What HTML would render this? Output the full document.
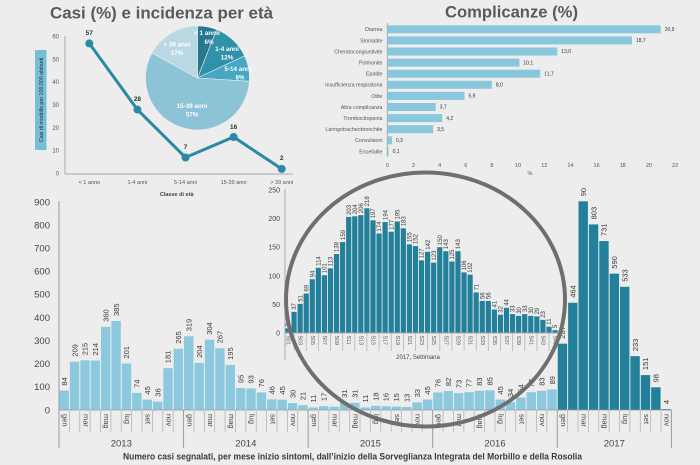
<!DOCTYPE html>
<html><head><meta charset="utf-8"><style>
html,body{margin:0;padding:0;background:#ededed;}
svg{display:block;font-family:"Liberation Sans",Arial,sans-serif;}
.l{fill:#8cc9de}.d{fill:#22809a}.cb{fill:#89c7dd}
.dl{font-size:7.5px;fill:#3a3a3a}
.ml{font-size:7.5px;fill:#444}
.il{font-size:6px;fill:#3a3a3a}
.wl{font-size:5.3px;fill:#555}
.ax{stroke:#a9a9a9;stroke-width:1;fill:none}
.tk{stroke:#b5b5b5;stroke-width:0.8}
</style></head><body>
<svg width="700" height="465" viewBox="0 0 700 465">
<rect width="700" height="465" fill="#ededed"/>

<!-- ===== Top-left: Casi e incidenza ===== -->
<text x="50" y="18.5" font-size="17" font-weight="bold" fill="#5a5a5a" textLength="223" lengthAdjust="spacingAndGlyphs">Casi (%) e incidenza per età</text>
<rect x="35" y="50" width="11.5" height="100" fill="#74bfd6"/>
<text transform="translate(42.8,100) rotate(-90)" text-anchor="middle" font-size="5.3" fill="#2a2a2a">Casi di morbillo per 100.000 abitanti</text>
<g font-size="6" fill="#555" text-anchor="end">
<text x="59" y="175.5">0</text><text x="59" y="152.7">10</text><text x="59" y="129.8">20</text><text x="59" y="107">30</text><text x="59" y="84.2">40</text><text x="59" y="61.4">50</text><text x="59" y="38.5">60</text>
</g>
<line x1="65" y1="36" x2="65" y2="174" class="ax"/>
<line x1="65" y1="174" x2="293" y2="174" class="ax"/>
<g font-size="5.5" fill="#555" text-anchor="middle">
<text x="89.3" y="184">&lt; 1 anno</text><text x="137.4" y="184">1-4 anni</text><text x="185.5" y="184">5-14 anni</text><text x="233.6" y="184">15-39 anni</text><text x="281.7" y="184">&gt; 39 anni</text>
</g>
<text x="176.7" y="196" font-size="5.5" font-weight="bold" fill="#444" text-anchor="middle">Classe di età</text>
<polyline points="89.3,43.4 137.4,109.6 185.5,157.5 233.6,137 281.7,168.9" fill="none" stroke="#2c88a4" stroke-width="3"/>
<g fill="#2c88a4"><circle cx="89.3" cy="43.4" r="4"/><circle cx="137.4" cy="109.6" r="4"/><circle cx="185.5" cy="157.5" r="4"/><circle cx="233.6" cy="137" r="4"/><circle cx="281.7" cy="168.9" r="4"/></g>
<g font-size="6.5" font-weight="bold" fill="#333" text-anchor="middle">
<text x="89.3" y="35">57</text><text x="137.4" y="101">28</text><text x="185.5" y="149">7</text><text x="233.6" y="129">16</text><text x="281.7" y="160">2</text>
</g>
<!-- pie -->
<g stroke="#ededed" stroke-width="0.6">
<path d="M197.5,78 L197.5,26 A52,52 0 0 1 216.64,29.65 Z" fill="#27788e"/>
<path d="M197.5,78 L216.64,29.65 A52,52 0 0 1 244.55,55.86 Z" fill="#3190aa"/>
<path d="M197.5,78 L244.55,55.86 A52,52 0 0 1 249.4,81.27 Z" fill="#45a7c3"/>
<path d="M197.5,78 L249.4,81.27 A52,52 0 1 1 151.93,52.95 Z" fill="#8dc3d7"/>
<path d="M197.5,78 L151.93,52.95 A52,52 0 0 1 197.5,26 Z" fill="#bad8e4"/>
</g>
<g font-size="6.3" font-weight="bold" fill="#fff" text-anchor="middle">
<text x="207" y="35">&lt; 1 anno</text><text x="209" y="44">6%</text>
<text x="227" y="51">1-4 anni</text><text x="227" y="59.5">12%</text>
<text x="238" y="71">5-14 anni</text><text x="240" y="79.5">8%</text>
<text x="192" y="108">15-39 anni</text><text x="192" y="116.5">57%</text>
<text x="177" y="46.5">&gt; 39 anni</text><text x="177" y="55">17%</text>
</g>

<!-- ===== Top-right: Complicanze ===== -->
<text x="445" y="17.5" font-size="17" font-weight="bold" fill="#5a5a5a" textLength="133" lengthAdjust="spacingAndGlyphs">Complicanze (%)</text>
<line x1="387.3" y1="23" x2="387.3" y2="157" class="ax"/>
<g class="cb">
<rect x="387.3" y="25.3" width="273.4" height="8"/>
<rect x="387.3" y="36.4" width="244.6" height="8"/>
<rect x="387.3" y="47.5" width="170" height="8"/>
<rect x="387.3" y="58.6" width="132.1" height="8"/>
<rect x="387.3" y="69.7" width="153" height="8"/>
<rect x="387.3" y="80.8" width="104.6" height="8"/>
<rect x="387.3" y="91.9" width="77.2" height="8"/>
<rect x="387.3" y="103" width="48.4" height="8"/>
<rect x="387.3" y="114.1" width="54.9" height="8"/>
<rect x="387.3" y="125.2" width="45.8" height="8"/>
<rect x="387.3" y="136.3" width="4.6" height="8"/>
<rect x="387.3" y="147.4" width="1.3" height="8"/>
</g>
<g font-size="5.3" fill="#555" text-anchor="end">
<text x="382.5" y="31.2">Diarrea</text>
<text x="382.5" y="42.3">Stomatite</text>
<text x="382.5" y="53.4">Cheratocongiuntivite</text>
<text x="382.5" y="64.5">Polmonite</text>
<text x="382.5" y="75.6">Epatite</text>
<text x="382.5" y="86.7">Insufficienza respiratoria</text>
<text x="382.5" y="97.8">Otite</text>
<text x="382.5" y="108.9">Altra complicanza</text>
<text x="382.5" y="120">Trombocitopenia</text>
<text x="382.5" y="131.1">Laringotracheobronchite</text>
<text x="382.5" y="142.2">Convulsioni</text>
<text x="382.5" y="153.3">Encefalite</text>
</g>
<g font-size="5" fill="#333">
<text x="664.7" y="31">20,9</text>
<text x="635.9" y="42.1">18,7</text>
<text x="561.3" y="53.2">13,0</text>
<text x="523.4" y="64.3">10,1</text>
<text x="544.3" y="75.4">11,7</text>
<text x="495.9" y="86.5">8,0</text>
<text x="468.5" y="97.6">5,9</text>
<text x="439.7" y="108.7">3,7</text>
<text x="446.2" y="119.8">4,2</text>
<text x="437.1" y="130.9">3,5</text>
<text x="395.9" y="142">0,3</text>
<text x="392.6" y="153.1">0,1</text>
</g>
<g font-size="5.5" fill="#555" text-anchor="middle">
<text x="387.3" y="167">0</text><text x="413.5" y="167">2</text><text x="439.6" y="167">4</text><text x="465.8" y="167">6</text><text x="491.9" y="167">8</text><text x="518.1" y="167">10</text><text x="544.3" y="167">12</text><text x="570.4" y="167">14</text><text x="596.6" y="167">16</text><text x="622.7" y="167">18</text><text x="648.9" y="167">20</text><text x="675.1" y="167">22</text>
<text x="530" y="175">%</text>
</g>

<!-- ===== Bottom main chart ===== -->
<g font-size="9.5" fill="#444" text-anchor="end">
<text x="50" y="413.3">0</text><text x="50" y="390.2">100</text><text x="50" y="367.1">200</text><text x="50" y="344">300</text><text x="50" y="320.9">400</text><text x="50" y="297.7">500</text><text x="50" y="274.6">600</text><text x="50" y="251.5">700</text><text x="50" y="228.4">800</text><text x="50" y="205.3">900</text>
</g>
<g class="l">
<rect x="59.5" y="390.59" width="9.4" height="19.41"/>
<rect x="69.88" y="361.7" width="9.4" height="48.3"/>
<rect x="80.26" y="360.31" width="9.4" height="49.69"/>
<rect x="90.64" y="360.54" width="9.4" height="49.46"/>
<rect x="101.02" y="326.8" width="9.4" height="83.2"/>
<rect x="111.4" y="321.03" width="9.4" height="88.97"/>
<rect x="121.78" y="363.55" width="9.4" height="46.45"/>
<rect x="132.16" y="392.9" width="9.4" height="17.1"/>
<rect x="142.54" y="399.6" width="9.4" height="10.4"/>
<rect x="152.92" y="401.68" width="9.4" height="8.32"/>
<rect x="163.3" y="368.17" width="9.4" height="41.83"/>
<rect x="173.68" y="348.76" width="9.4" height="61.24"/>
<rect x="184.06" y="336.28" width="9.4" height="73.72"/>
<rect x="194.44" y="362.86" width="9.4" height="47.14"/>
<rect x="204.82" y="339.75" width="9.4" height="70.25"/>
<rect x="215.2" y="348.3" width="9.4" height="61.7"/>
<rect x="225.58" y="364.94" width="9.4" height="45.06"/>
<rect x="235.96" y="388.05" width="9.4" height="21.95"/>
<rect x="246.34" y="388.51" width="9.4" height="21.49"/>
<rect x="256.72" y="392.44" width="9.4" height="17.56"/>
<rect x="267.1" y="399.37" width="9.4" height="10.63"/>
<rect x="277.48" y="399.6" width="9.4" height="10.4"/>
<rect x="287.86" y="403.07" width="9.4" height="6.93"/>
<rect x="298.24" y="405.15" width="9.4" height="4.85"/>
<rect x="308.62" y="407.46" width="9.4" height="2.54"/>
<rect x="319" y="406.07" width="9.4" height="3.93"/>
<rect x="329.38" y="406.76" width="9.4" height="3.24"/>
<rect x="339.76" y="402.84" width="9.4" height="7.16"/>
<rect x="350.14" y="402.84" width="9.4" height="7.16"/>
<rect x="360.52" y="407.46" width="9.4" height="2.54"/>
<rect x="370.9" y="405.84" width="9.4" height="4.16"/>
<rect x="381.28" y="406.3" width="9.4" height="3.7"/>
<rect x="391.66" y="406.53" width="9.4" height="3.47"/>
<rect x="402.04" y="407" width="9.4" height="3"/>
<rect x="412.42" y="402.37" width="9.4" height="7.63"/>
<rect x="422.8" y="399.6" width="9.4" height="10.4"/>
<rect x="433.18" y="392.44" width="9.4" height="17.56"/>
<rect x="443.56" y="391.05" width="9.4" height="18.95"/>
<rect x="453.94" y="393.13" width="9.4" height="16.87"/>
<rect x="464.32" y="392.21" width="9.4" height="17.79"/>
<rect x="474.7" y="390.82" width="9.4" height="19.18"/>
<rect x="485.08" y="390.36" width="9.4" height="19.64"/>
<rect x="495.46" y="399.6" width="9.4" height="10.4"/>
<rect x="505.84" y="402.14" width="9.4" height="7.86"/>
<rect x="516.22" y="397.52" width="9.4" height="12.48"/>
<rect x="526.6" y="392.21" width="9.4" height="17.79"/>
<rect x="536.98" y="390.82" width="9.4" height="19.18"/>
<rect x="547.36" y="389.43" width="9.4" height="20.57"/>
</g>
<g class="d">
<rect x="557.74" y="343.67" width="9.4" height="66.33"/>
<rect x="568.12" y="302.77" width="9.4" height="107.23"/>
<rect x="578.5" y="201.31" width="9.4" height="208.69"/>
<rect x="588.88" y="224.43" width="9.4" height="185.57"/>
<rect x="599.26" y="241.07" width="9.4" height="168.93"/>
<rect x="609.64" y="273.65" width="9.4" height="136.35"/>
<rect x="620.02" y="286.82" width="9.4" height="123.18"/>
<rect x="630.4" y="356.15" width="9.4" height="53.85"/>
<rect x="640.78" y="375.1" width="9.4" height="34.9"/>
<rect x="651.16" y="387.35" width="9.4" height="22.65"/>
<rect x="661.54" y="409.08" width="9.4" height="0.92"/>
</g>
<line x1="59" y1="410" x2="671.4" y2="410" stroke="#9a9a9a" stroke-width="0.8"/>
<g class="dl">
<text transform="translate(64.19,385.6) rotate(-90)" y="2.7">84</text>
<text transform="translate(74.57,356.7) rotate(-90)" y="2.7">209</text>
<text transform="translate(84.95,355.3) rotate(-90)" y="2.7">215</text>
<text transform="translate(95.33,355.5) rotate(-90)" y="2.7">214</text>
<text transform="translate(105.71,321.8) rotate(-90)" y="2.7">360</text>
<text transform="translate(116.09,316) rotate(-90)" y="2.7">385</text>
<text transform="translate(126.47,358.6) rotate(-90)" y="2.7">201</text>
<text transform="translate(136.85,387.9) rotate(-90)" y="2.7">74</text>
<text transform="translate(147.23,394.6) rotate(-90)" y="2.7">45</text>
<text transform="translate(157.61,396.7) rotate(-90)" y="2.7">36</text>
<text transform="translate(167.99,363.2) rotate(-90)" y="2.7">181</text>
<text transform="translate(178.37,343.8) rotate(-90)" y="2.7">265</text>
<text transform="translate(188.75,331.3) rotate(-90)" y="2.7">319</text>
<text transform="translate(199.13,357.9) rotate(-90)" y="2.7">204</text>
<text transform="translate(209.51,334.8) rotate(-90)" y="2.7">304</text>
<text transform="translate(219.89,343.3) rotate(-90)" y="2.7">267</text>
<text transform="translate(230.27,359.9) rotate(-90)" y="2.7">195</text>
<text transform="translate(240.65,383.1) rotate(-90)" y="2.7">95</text>
<text transform="translate(251.03,383.5) rotate(-90)" y="2.7">93</text>
<text transform="translate(261.41,387.4) rotate(-90)" y="2.7">76</text>
<text transform="translate(271.79,394.4) rotate(-90)" y="2.7">46</text>
<text transform="translate(282.17,394.6) rotate(-90)" y="2.7">45</text>
<text transform="translate(292.55,398.1) rotate(-90)" y="2.7">30</text>
<text transform="translate(302.93,400.2) rotate(-90)" y="2.7">21</text>
<text transform="translate(313.31,402.5) rotate(-90)" y="2.7">11</text>
<text transform="translate(323.69,401.1) rotate(-90)" y="2.7">17</text>
<text transform="translate(344.45,397.8) rotate(-90)" y="2.7">31</text>
<text transform="translate(354.83,397.8) rotate(-90)" y="2.7">31</text>
<text transform="translate(365.21,402.5) rotate(-90)" y="2.7">11</text>
<text transform="translate(375.59,400.8) rotate(-90)" y="2.7">18</text>
<text transform="translate(385.97,401.3) rotate(-90)" y="2.7">16</text>
<text transform="translate(396.35,401.5) rotate(-90)" y="2.7">15</text>
<text transform="translate(406.73,402) rotate(-90)" y="2.7">13</text>
<text transform="translate(417.11,397.4) rotate(-90)" y="2.7">33</text>
<text transform="translate(427.49,394.6) rotate(-90)" y="2.7">45</text>
<text transform="translate(437.87,387.4) rotate(-90)" y="2.7">76</text>
<text transform="translate(448.25,386.1) rotate(-90)" y="2.7">82</text>
<text transform="translate(458.63,388.1) rotate(-90)" y="2.7">73</text>
<text transform="translate(469.01,387.2) rotate(-90)" y="2.7">77</text>
<text transform="translate(479.39,385.8) rotate(-90)" y="2.7">83</text>
<text transform="translate(489.77,385.4) rotate(-90)" y="2.7">85</text>
<text transform="translate(500.15,394.6) rotate(-90)" y="2.7">45</text>
<text transform="translate(510.53,397.1) rotate(-90)" y="2.7">34</text>
<text transform="translate(520.91,392.5) rotate(-90)" y="2.7">54</text>
<text transform="translate(531.29,387.2) rotate(-90)" y="2.7">77</text>
<text transform="translate(541.67,385.8) rotate(-90)" y="2.7">83</text>
<text transform="translate(552.05,384.4) rotate(-90)" y="2.7">89</text>
<text transform="translate(562.43,338.7) rotate(-90)" y="2.7">287</text>
<text transform="translate(572.81,297.8) rotate(-90)" y="2.7">464</text>
<text transform="translate(583.19,196.3) rotate(-90)" y="2.7">90</text>
<text transform="translate(593.57,219.4) rotate(-90)" y="2.7">803</text>
<text transform="translate(603.95,236.1) rotate(-90)" y="2.7">731</text>
<text transform="translate(614.33,268.7) rotate(-90)" y="2.7">590</text>
<text transform="translate(624.71,281.8) rotate(-90)" y="2.7">533</text>
<text transform="translate(635.09,351.2) rotate(-90)" y="2.7">233</text>
<text transform="translate(645.47,370.1) rotate(-90)" y="2.7">151</text>
<text transform="translate(655.85,382.4) rotate(-90)" y="2.7">98</text>
<text transform="translate(666.23,404.1) rotate(-90)" y="2.7">4</text>
</g>
<!-- category ticks -->
<g class="tk">
<line x1="69.38" y1="410" x2="69.38" y2="432"/><line x1="79.76" y1="410" x2="79.76" y2="432"/><line x1="90.14" y1="410" x2="90.14" y2="432"/><line x1="100.52" y1="410" x2="100.52" y2="432"/><line x1="110.9" y1="410" x2="110.9" y2="432"/><line x1="121.28" y1="410" x2="121.28" y2="432"/><line x1="131.66" y1="410" x2="131.66" y2="432"/><line x1="142.04" y1="410" x2="142.04" y2="432"/><line x1="152.42" y1="410" x2="152.42" y2="432"/><line x1="162.8" y1="410" x2="162.8" y2="432"/><line x1="173.18" y1="410" x2="173.18" y2="432"/>
<line x1="193.94" y1="410" x2="193.94" y2="432"/><line x1="204.32" y1="410" x2="204.32" y2="432"/><line x1="214.7" y1="410" x2="214.7" y2="432"/><line x1="225.08" y1="410" x2="225.08" y2="432"/><line x1="235.46" y1="410" x2="235.46" y2="432"/><line x1="245.84" y1="410" x2="245.84" y2="432"/><line x1="256.22" y1="410" x2="256.22" y2="432"/><line x1="266.6" y1="410" x2="266.6" y2="432"/><line x1="276.98" y1="410" x2="276.98" y2="432"/><line x1="287.36" y1="410" x2="287.36" y2="432"/><line x1="297.74" y1="410" x2="297.74" y2="432"/>
<line x1="318.5" y1="410" x2="318.5" y2="432"/><line x1="328.88" y1="410" x2="328.88" y2="432"/><line x1="339.26" y1="410" x2="339.26" y2="432"/><line x1="349.64" y1="410" x2="349.64" y2="432"/><line x1="360.02" y1="410" x2="360.02" y2="432"/><line x1="370.4" y1="410" x2="370.4" y2="432"/><line x1="380.78" y1="410" x2="380.78" y2="432"/><line x1="391.16" y1="410" x2="391.16" y2="432"/><line x1="401.54" y1="410" x2="401.54" y2="432"/><line x1="411.92" y1="410" x2="411.92" y2="432"/><line x1="422.3" y1="410" x2="422.3" y2="432"/>
<line x1="443.06" y1="410" x2="443.06" y2="432"/><line x1="453.44" y1="410" x2="453.44" y2="432"/><line x1="463.82" y1="410" x2="463.82" y2="432"/><line x1="474.2" y1="410" x2="474.2" y2="432"/><line x1="484.58" y1="410" x2="484.58" y2="432"/><line x1="494.96" y1="410" x2="494.96" y2="432"/><line x1="505.34" y1="410" x2="505.34" y2="432"/><line x1="515.72" y1="410" x2="515.72" y2="432"/><line x1="526.1" y1="410" x2="526.1" y2="432"/><line x1="536.48" y1="410" x2="536.48" y2="432"/><line x1="546.86" y1="410" x2="546.86" y2="432"/>
<line x1="567.62" y1="410" x2="567.62" y2="432"/><line x1="578" y1="410" x2="578" y2="432"/><line x1="588.38" y1="410" x2="588.38" y2="432"/><line x1="598.76" y1="410" x2="598.76" y2="432"/><line x1="609.14" y1="410" x2="609.14" y2="432"/><line x1="619.52" y1="410" x2="619.52" y2="432"/><line x1="629.9" y1="410" x2="629.9" y2="432"/><line x1="640.28" y1="410" x2="640.28" y2="432"/><line x1="650.66" y1="410" x2="650.66" y2="432"/><line x1="661.04" y1="410" x2="661.04" y2="432"/>
</g>
<g stroke="#9a9a9a" stroke-width="1">
<line x1="59" y1="201" x2="59" y2="448"/><line x1="183.56" y1="410" x2="183.56" y2="448"/><line x1="308.12" y1="410" x2="308.12" y2="448"/><line x1="432.68" y1="410" x2="432.68" y2="448"/><line x1="557.24" y1="410" x2="557.24" y2="448"/><line x1="671.42" y1="410" x2="671.42" y2="448"/>
</g>
<g class="ml">
<text transform="translate(64.19,414) rotate(90)" y="1.5">gen</text><text transform="translate(84.95,414) rotate(90)" y="1.5">mar</text><text transform="translate(105.71,414) rotate(90)" y="1.5">mag</text><text transform="translate(126.47,414) rotate(90)" y="1.5">lug</text><text transform="translate(147.23,414) rotate(90)" y="1.5">set</text><text transform="translate(167.99,414) rotate(90)" y="1.5">nov</text>
<text transform="translate(188.75,414) rotate(90)" y="1.5">gen</text><text transform="translate(209.51,414) rotate(90)" y="1.5">mar</text><text transform="translate(230.27,414) rotate(90)" y="1.5">mag</text><text transform="translate(251.03,414) rotate(90)" y="1.5">lug</text><text transform="translate(271.79,414) rotate(90)" y="1.5">set</text><text transform="translate(292.55,414) rotate(90)" y="1.5">nov</text>
<text transform="translate(313.31,414) rotate(90)" y="1.5">gen</text><text transform="translate(334.07,414) rotate(90)" y="1.5">mar</text><text transform="translate(354.83,414) rotate(90)" y="1.5">mag</text><text transform="translate(375.59,414) rotate(90)" y="1.5">lug</text><text transform="translate(396.35,414) rotate(90)" y="1.5">set</text><text transform="translate(417.11,414) rotate(90)" y="1.5">nov</text>
<text transform="translate(437.87,414) rotate(90)" y="1.5">gen</text><text transform="translate(458.63,414) rotate(90)" y="1.5">mar</text><text transform="translate(479.39,414) rotate(90)" y="1.5">mag</text><text transform="translate(500.15,414) rotate(90)" y="1.5">lug</text><text transform="translate(520.91,414) rotate(90)" y="1.5">set</text><text transform="translate(541.67,414) rotate(90)" y="1.5">nov</text>
<text transform="translate(562.43,414) rotate(90)" y="1.5">gen</text><text transform="translate(583.19,414) rotate(90)" y="1.5">mar</text><text transform="translate(603.95,414) rotate(90)" y="1.5">mag</text><text transform="translate(624.71,414) rotate(90)" y="1.5">lug</text><text transform="translate(645.47,414) rotate(90)" y="1.5">set</text><text transform="translate(666.23,414) rotate(90)" y="1.5">nov</text>
</g>
<g font-size="9.5" fill="#444" text-anchor="middle">
<text x="121.3" y="446.5">2013</text><text x="245.8" y="446.5">2014</text><text x="370.4" y="446.5">2015</text><text x="495" y="446.5">2016</text><text x="614.3" y="446.5">2017</text>
</g>
<text x="123" y="459.5" font-size="9" font-weight="bold" fill="#3a3a3a" textLength="459" lengthAdjust="spacingAndGlyphs">Numero casi segnalati, per mese inizio sintomi, dall’inizio della Sorveglianza Integrata del Morbillo e della Rosolia</text>

<!-- ===== Inset weekly chart ===== -->
<g font-size="7" fill="#444" text-anchor="end">
<text x="280" y="335.5">0</text><text x="280" y="306.9">50</text><text x="280" y="278.3">100</text><text x="280" y="249.7">150</text><text x="280" y="221.1">200</text><text x="280" y="192.5">250</text>
</g>
<line x1="285" y1="189" x2="285" y2="360" class="ax"/>
<g class="d">
<rect x="285.4" y="328.42" width="5.2" height="4.58"/><rect x="291.47" y="311.84" width="5.2" height="21.16"/><rect x="297.54" y="303.83" width="5.2" height="29.17"/><rect x="303.61" y="293.53" width="5.2" height="39.47"/><rect x="309.68" y="279.23" width="5.2" height="53.77"/><rect x="315.75" y="267.79" width="5.2" height="65.21"/><rect x="321.82" y="275.23" width="5.2" height="57.77"/><rect x="327.89" y="268.36" width="5.2" height="64.64"/><rect x="333.96" y="254.06" width="5.2" height="78.94"/><rect x="340.03" y="242.05" width="5.2" height="90.95"/>
<rect x="346.1" y="216.88" width="5.2" height="116.12"/><rect x="352.17" y="216.31" width="5.2" height="116.69"/><rect x="358.24" y="215.17" width="5.2" height="117.83"/><rect x="364.31" y="208.3" width="5.2" height="124.7"/><rect x="370.38" y="220.32" width="5.2" height="112.68"/><rect x="376.45" y="233.47" width="5.2" height="99.53"/><rect x="382.52" y="222.03" width="5.2" height="110.97"/><rect x="388.59" y="231.76" width="5.2" height="101.24"/><rect x="394.66" y="221.46" width="5.2" height="111.54"/><rect x="400.73" y="228.32" width="5.2" height="104.68"/>
<rect x="406.8" y="244.34" width="5.2" height="88.66"/><rect x="412.87" y="246.06" width="5.2" height="86.94"/><rect x="418.94" y="260.36" width="5.2" height="72.64"/><rect x="425.01" y="251.78" width="5.2" height="81.22"/><rect x="431.08" y="262.64" width="5.2" height="70.36"/><rect x="437.15" y="247.2" width="5.2" height="85.8"/><rect x="443.22" y="251.2" width="5.2" height="81.8"/><rect x="449.29" y="261.5" width="5.2" height="71.5"/><rect x="455.36" y="251.2" width="5.2" height="81.8"/><rect x="461.43" y="272.37" width="5.2" height="60.63"/>
<rect x="467.5" y="274.66" width="5.2" height="58.34"/><rect x="473.57" y="292.39" width="5.2" height="40.61"/><rect x="479.64" y="300.97" width="5.2" height="32.03"/><rect x="485.71" y="300.97" width="5.2" height="32.03"/><rect x="491.78" y="309.55" width="5.2" height="23.45"/><rect x="497.85" y="314.7" width="5.2" height="18.3"/><rect x="503.92" y="307.83" width="5.2" height="25.17"/><rect x="509.99" y="314.12" width="5.2" height="18.88"/><rect x="516.06" y="315.84" width="5.2" height="17.16"/><rect x="522.13" y="314.12" width="5.2" height="18.88"/>
<rect x="528.2" y="315.84" width="5.2" height="17.16"/><rect x="534.27" y="316.41" width="5.2" height="16.59"/><rect x="540.34" y="319.84" width="5.2" height="13.16"/><rect x="546.41" y="326.71" width="5.2" height="6.29"/><rect x="552.48" y="330.14" width="5.2" height="2.86"/>
</g>
<line x1="285" y1="333" x2="558" y2="333" class="ax"/>
<g class="il">
<text transform="translate(288.04,326.4) rotate(-90)" y="2.1">8</text>
<text transform="translate(294.11,309.8) rotate(-90)" y="2.1">37</text>
<text transform="translate(300.18,301.8) rotate(-90)" y="2.1">51</text>
<text transform="translate(306.25,291.5) rotate(-90)" y="2.1">69</text>
<text transform="translate(312.32,277.2) rotate(-90)" y="2.1">94</text>
<text transform="translate(318.39,265.8) rotate(-90)" y="2.1">114</text>
<text transform="translate(324.46,273.2) rotate(-90)" y="2.1">101</text>
<text transform="translate(330.53,266.4) rotate(-90)" y="2.1">113</text>
<text transform="translate(336.6,252.1) rotate(-90)" y="2.1">138</text>
<text transform="translate(342.67,240) rotate(-90)" y="2.1">159</text>
<text transform="translate(348.74,214.9) rotate(-90)" y="2.1">203</text>
<text transform="translate(354.81,214.3) rotate(-90)" y="2.1">204</text>
<text transform="translate(360.88,213.2) rotate(-90)" y="2.1">206</text>
<text transform="translate(366.95,206.3) rotate(-90)" y="2.1">218</text>
<text transform="translate(373.02,218.3) rotate(-90)" y="2.1">197</text>
<text transform="translate(379.09,231.5) rotate(-90)" y="2.1">174</text>
<text transform="translate(385.16,220) rotate(-90)" y="2.1">194</text>
<text transform="translate(391.23,229.8) rotate(-90)" y="2.1">177</text>
<text transform="translate(397.3,219.5) rotate(-90)" y="2.1">195</text>
<text transform="translate(403.37,226.3) rotate(-90)" y="2.1">183</text>
<text transform="translate(409.44,242.3) rotate(-90)" y="2.1">155</text>
<text transform="translate(415.51,244.1) rotate(-90)" y="2.1">152</text>
<text transform="translate(421.58,258.4) rotate(-90)" y="2.1">127</text>
<text transform="translate(427.65,249.8) rotate(-90)" y="2.1">142</text>
<text transform="translate(433.72,260.6) rotate(-90)" y="2.1">123</text>
<text transform="translate(439.79,245.2) rotate(-90)" y="2.1">150</text>
<text transform="translate(445.86,249.2) rotate(-90)" y="2.1">143</text>
<text transform="translate(451.93,259.5) rotate(-90)" y="2.1">125</text>
<text transform="translate(458,249.2) rotate(-90)" y="2.1">143</text>
<text transform="translate(464.07,270.4) rotate(-90)" y="2.1">106</text>
<text transform="translate(470.14,272.7) rotate(-90)" y="2.1">102</text>
<text transform="translate(476.21,290.4) rotate(-90)" y="2.1">71</text>
<text transform="translate(482.28,299) rotate(-90)" y="2.1">56</text>
<text transform="translate(488.35,299) rotate(-90)" y="2.1">56</text>
<text transform="translate(494.42,307.5) rotate(-90)" y="2.1">41</text>
<text transform="translate(500.49,312.7) rotate(-90)" y="2.1">32</text>
<text transform="translate(506.56,305.8) rotate(-90)" y="2.1">44</text>
<text transform="translate(512.63,312.1) rotate(-90)" y="2.1">33</text>
<text transform="translate(518.7,313.8) rotate(-90)" y="2.1">30</text>
<text transform="translate(524.77,312.1) rotate(-90)" y="2.1">33</text>
<text transform="translate(530.84,313.8) rotate(-90)" y="2.1">30</text>
<text transform="translate(536.91,314.4) rotate(-90)" y="2.1">29</text>
<text transform="translate(542.98,317.8) rotate(-90)" y="2.1">23</text>
<text transform="translate(549.05,324.7) rotate(-90)" y="2.1">11</text>
<text transform="translate(555.12,328.1) rotate(-90)" y="2.1">5</text>
</g>
<g class="tk">
<line x1="294.1" y1="333" x2="294.1" y2="351"/><line x1="306.2" y1="333" x2="306.2" y2="351"/><line x1="318.4" y1="333" x2="318.4" y2="351"/><line x1="330.5" y1="333" x2="330.5" y2="351"/><line x1="342.7" y1="333" x2="342.7" y2="351"/><line x1="354.8" y1="333" x2="354.8" y2="351"/><line x1="366.9" y1="333" x2="366.9" y2="351"/><line x1="379.1" y1="333" x2="379.1" y2="351"/><line x1="391.2" y1="333" x2="391.2" y2="351"/><line x1="403.4" y1="333" x2="403.4" y2="351"/><line x1="415.5" y1="333" x2="415.5" y2="351"/><line x1="427.6" y1="333" x2="427.6" y2="351"/><line x1="439.8" y1="333" x2="439.8" y2="351"/><line x1="451.9" y1="333" x2="451.9" y2="351"/><line x1="464.1" y1="333" x2="464.1" y2="351"/><line x1="476.2" y1="333" x2="476.2" y2="351"/><line x1="488.3" y1="333" x2="488.3" y2="351"/><line x1="500.5" y1="333" x2="500.5" y2="351"/><line x1="512.6" y1="333" x2="512.6" y2="351"/><line x1="524.8" y1="333" x2="524.8" y2="351"/><line x1="536.9" y1="333" x2="536.9" y2="351"/><line x1="549" y1="333" x2="549" y2="351"/>
</g>
<g class="wl">
<text transform="translate(288.04,335.5) rotate(90)" y="1.5">S01</text><text transform="translate(300.18,335.5) rotate(90)" y="1.5">S03</text><text transform="translate(312.32,335.5) rotate(90)" y="1.5">S05</text><text transform="translate(324.46,335.5) rotate(90)" y="1.5">S07</text><text transform="translate(336.6,335.5) rotate(90)" y="1.5">S09</text><text transform="translate(348.74,335.5) rotate(90)" y="1.5">S11</text><text transform="translate(360.88,335.5) rotate(90)" y="1.5">S13</text><text transform="translate(373.02,335.5) rotate(90)" y="1.5">S15</text><text transform="translate(385.16,335.5) rotate(90)" y="1.5">S17</text><text transform="translate(397.3,335.5) rotate(90)" y="1.5">S19</text><text transform="translate(409.44,335.5) rotate(90)" y="1.5">S21</text><text transform="translate(421.58,335.5) rotate(90)" y="1.5">S23</text>
<text transform="translate(433.72,335.5) rotate(90)" y="1.5">S25</text><text transform="translate(445.86,335.5) rotate(90)" y="1.5">S27</text><text transform="translate(458,335.5) rotate(90)" y="1.5">S29</text><text transform="translate(470.14,335.5) rotate(90)" y="1.5">S31</text><text transform="translate(482.28,335.5) rotate(90)" y="1.5">S33</text><text transform="translate(494.42,335.5) rotate(90)" y="1.5">S35</text><text transform="translate(506.56,335.5) rotate(90)" y="1.5">S37</text><text transform="translate(518.7,335.5) rotate(90)" y="1.5">S39</text><text transform="translate(530.84,335.5) rotate(90)" y="1.5">S41</text><text transform="translate(542.98,335.5) rotate(90)" y="1.5">S43</text><text transform="translate(555.12,335.5) rotate(90)" y="1.5">S45</text>
</g>
<text x="418" y="359" font-size="6" fill="#444" text-anchor="middle">2017, Settimana</text>

<!-- magnifier circle -->
<ellipse cx="425.5" cy="299.5" rx="139.5" ry="127" fill="none" stroke="#6f6f6f" stroke-width="4"/>
</svg>
</body></html>
